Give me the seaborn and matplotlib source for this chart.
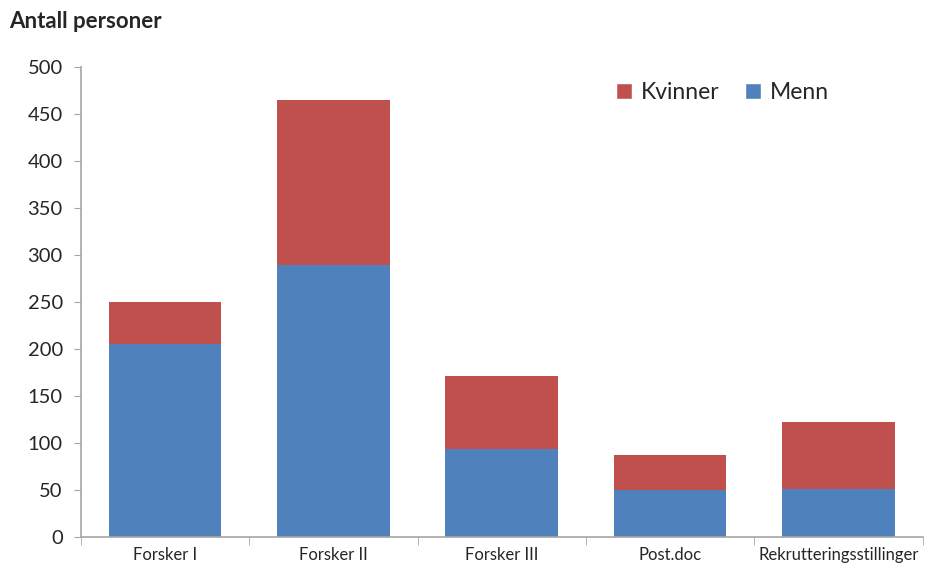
import matplotlib
matplotlib.use("Agg")
import matplotlib.pyplot as plt
import seaborn as sns
import pandas as pd
import numpy as np
from matplotlib.patches import Patch

categories = ["Forsker I", "Forsker II", "Forsker III", "Post.doc", "Rekrutteringsstillinger"]
menn = [205, 289, 94, 50, 51]
kvinner = [45, 176, 77, 37, 71]

total = [m + k for m, k in zip(menn, kvinner)]
df = pd.DataFrame({"Kategori": categories, "Menn": menn, "Kvinner": kvinner, "Total": total})

sns.set_style("white")
plt.rcParams["font.family"] = ["Lato", "DejaVu Sans"]

blue = "#4F81BD"
red = "#C0504D"
grey = "#A6A6A6"

fig = plt.figure(figsize=(9.3, 5.7), dpi=100)
ax = fig.add_axes([0.087, 0.058, 0.905, 0.825])

sns.barplot(data=df, x="Kategori", y="Total", color=red, width=0.67, ax=ax,
            saturation=1, edgecolor="none")
sns.barplot(data=df, x="Kategori", y="Menn", color=blue, width=0.67, ax=ax,
            saturation=1, edgecolor="none")

ax.set_xlim(-0.5, len(categories) - 0.5)
ax.set_ylim(0, 500)
ax.set_yticks(np.arange(0, 501, 50))
ax.tick_params(axis="y", labelsize=14.5, length=5, color=grey, direction="out", left=True, pad=8)
ax.set_xticks(range(len(categories)))
ax.set_xticklabels(categories)
ax.tick_params(axis="x", which="major", length=0, labelsize=12, pad=7)
ax.set_xticks(np.arange(-0.5, len(categories), 1), minor=True)
ax.tick_params(axis="x", which="minor", length=6, color=grey, direction="out", bottom=True)
ax.set_xlabel("")
ax.set_ylabel("")

for s in ["top", "right"]:
    ax.spines[s].set_visible(False)
for s in ["left", "bottom"]:
    ax.spines[s].set_color(grey)
    ax.spines[s].set_linewidth(1.2)

fig.text(0.010, 0.962, "Antall personer", fontsize=16, fontweight="bold", ha="left", va="center")

handles = [Patch(facecolor=red, label="Kvinner"), Patch(facecolor=blue, label="Menn")]
ax.legend(handles=handles, loc="center", bbox_to_anchor=(0.762, 0.945), ncol=2, frameon=False,
          fontsize=16.5, handlelength=0.7, handleheight=0.7, handletextpad=0.4, columnspacing=1.1)

fig.savefig("out.png", dpi=100)
